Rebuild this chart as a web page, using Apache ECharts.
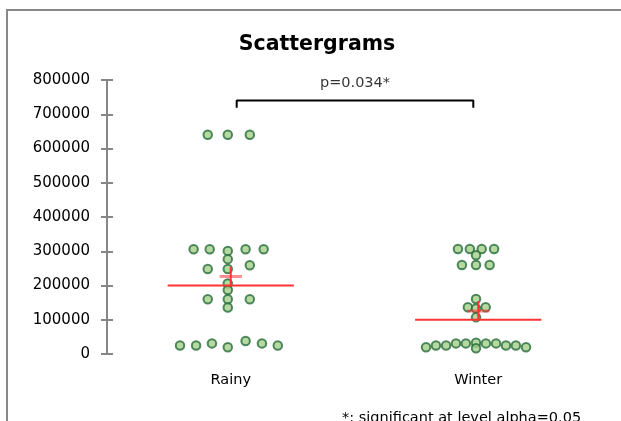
<!DOCTYPE html>
<html>
<head>
<meta charset="utf-8">
<script src="https://cdn.jsdelivr.net/npm/echarts@6/dist/echarts.min.js"></script>
<style>html,body{margin:0;padding:0;background:#fff;}#c{width:621px;height:421px;}</style>
</head>
<body>
<div id="c"></div>
<script>
const categories = ['Rainy', 'Winter'];
const chartTitle = 'Scattergrams';
const pLabel = 'p=0.034*';
const footnote = '*: significant at level alpha=0.05';
const yMin = 0, yMax = 800000, yInterval = 100000;

const rainyValues = [640000, 640000, 640000,
  306000, 306000, 301000, 306000, 306000,
  277000, 248000, 248000, 259000,
  206000, 187000,
  160000, 160000, 160000, 136000,
  25000, 25000, 31000, 19500, 38000, 31000, 25000];
const rainyJitter = [-0.093, -0.012, 0.077,
  -0.15, -0.085, -0.012, 0.06, 0.133,
  -0.012, -0.093, -0.012, 0.077,
  -0.012, -0.012,
  -0.093, -0.012, 0.077, -0.012,
  -0.205, -0.14, -0.076, -0.012, 0.06, 0.126, 0.19];

const winterValues = [306600, 306600, 306600, 306600, 288000,
  260000, 260000, 260000,
  160600, 136300, 136300, 133000, 107000,
  19500, 25000, 25000, 31000, 31000, 33000, 17000, 31000, 31000, 25000, 25000, 19500];
const winterJitter = [-0.082, -0.034, 0.014, 0.064, -0.009,
  -0.066, -0.009, 0.046,
  -0.009, -0.042, 0.03, -0.009, -0.009,
  -0.211, -0.171, -0.130, -0.090, -0.050, -0.009, -0.009, 0.031, 0.072, 0.112, 0.152, 0.193];

const medians = [200000, 100000];
const means = [226000, 125500];
const bracketTop = 740000, bracketFoot = 719000;
const bracketEnds = [1.024, 1.98];
const pLabelY = 791000;

const FONT = 'DejaVu Sans';
const RED = '#ff3333';
const pointStyle = {color: '#a3cf88', borderColor: '#276b3a', borderWidth: 2};

const series = [];
[rainyValues, winterValues].forEach((vals, ci) => {
  const jit = ci === 0 ? rainyJitter : winterJitter;
  series.push({
    type: 'scatter', name: categories[ci], symbol: 'circle', symbolSize: 8.5,
    itemStyle: pointStyle, z: 2,
    data: vals.map((v, i) => [ci + 1 + jit[i], v])
  });
});
medians.forEach((m, ci) => {
  series.push({type: 'line', symbol: 'none', z: 3, lineStyle: {color: RED, width: 2},
    data: [[ci + 1 - 0.255, m], [ci + 1 + 0.255, m]]});
});
means.forEach((m, ci) => {
  const d = 29200;
  series.push({type: 'line', symbol: 'none', z: 4, lineStyle: {color: RED, width: 2},
    data: [[ci + 1, m - d], [ci + 1, m + d]]});
  series.push({type: 'line', symbol: 'none', z: 4, lineStyle: {color: RED, width: 3, opacity: 0.55},
    data: [[ci + 1 - 0.045, m], [ci + 1 + 0.045, m]]});
});
series.push({type: 'line', symbol: 'none', z: 4, lineStyle: {color: '#000', width: 2},
  data: [[bracketEnds[0], bracketFoot], [bracketEnds[0], bracketTop], [bracketEnds[1], bracketTop], [bracketEnds[1], bracketFoot]]});
series.push({type: 'scatter', symbolSize: 0, z: 5, silent: true,
  label: {show: true, position: 'inside', formatter: pLabel, color: '#000', fontFamily: FONT, fontSize: 14.5},
  data: [[(bracketEnds[0] + bracketEnds[1]) / 2, pLabelY]]});

const chart = echarts.init(document.getElementById('c'), null, {renderer: 'canvas'});
chart.setOption({
  animation: false,
  backgroundColor: '#fff',
  grid: {left: 107, right: 19, top: 80, bottom: 67, containLabel: false},
  xAxis: {
    type: 'value', min: 0.5, max: 2.5,
    axisLine: {show: false}, axisTick: {show: false}, splitLine: {show: false},
    axisLabel: {customValues: [1, 2], formatter: v => categories[Math.round(v) - 1] || '',
      margin: 19, fontSize: 14.5, color: '#000', fontFamily: FONT}
  },
  yAxis: [{
    type: 'value', min: yMin, max: yMax, interval: yInterval, position: 'left',
    axisLine: {show: true, lineStyle: {color: '#868686', width: 2}},
    axisTick: {show: true, length: 6, lineStyle: {color: '#868686', width: 2}},
    splitLine: {show: false},
    axisLabel: {margin: 17, fontSize: 15, color: '#000', fontFamily: FONT, formatter: v => String(v)}
  }, {
    type: 'value', min: yMin, max: yMax, interval: yInterval, position: 'left',
    axisLine: {show: false},
    axisTick: {show: true, inside: true, length: 6, lineStyle: {color: '#868686', width: 2}},
    axisLabel: {show: false}, splitLine: {show: false}
  }],
  graphic: [
    {type: 'rect', silent: true, z: -1, shape: {x: 7, y: 10, width: 800, height: 600},
      style: {fill: 'none', stroke: '#888', lineWidth: 2}},
    {type: 'text', x: 317, y: 45, silent: true,
      style: {text: chartTitle, fontFamily: FONT, fontWeight: 'bold', fontSize: 20.5, fill: '#000',
        align: 'center', verticalAlign: 'middle'}},
    {type: 'text', x: 342, y: 418, silent: true,
      style: {text: footnote, fontFamily: FONT, fontSize: 14.5, fill: '#000',
        align: 'left', verticalAlign: 'middle'}}
  ],
  series: series
});
</script>
</body>
</html>
